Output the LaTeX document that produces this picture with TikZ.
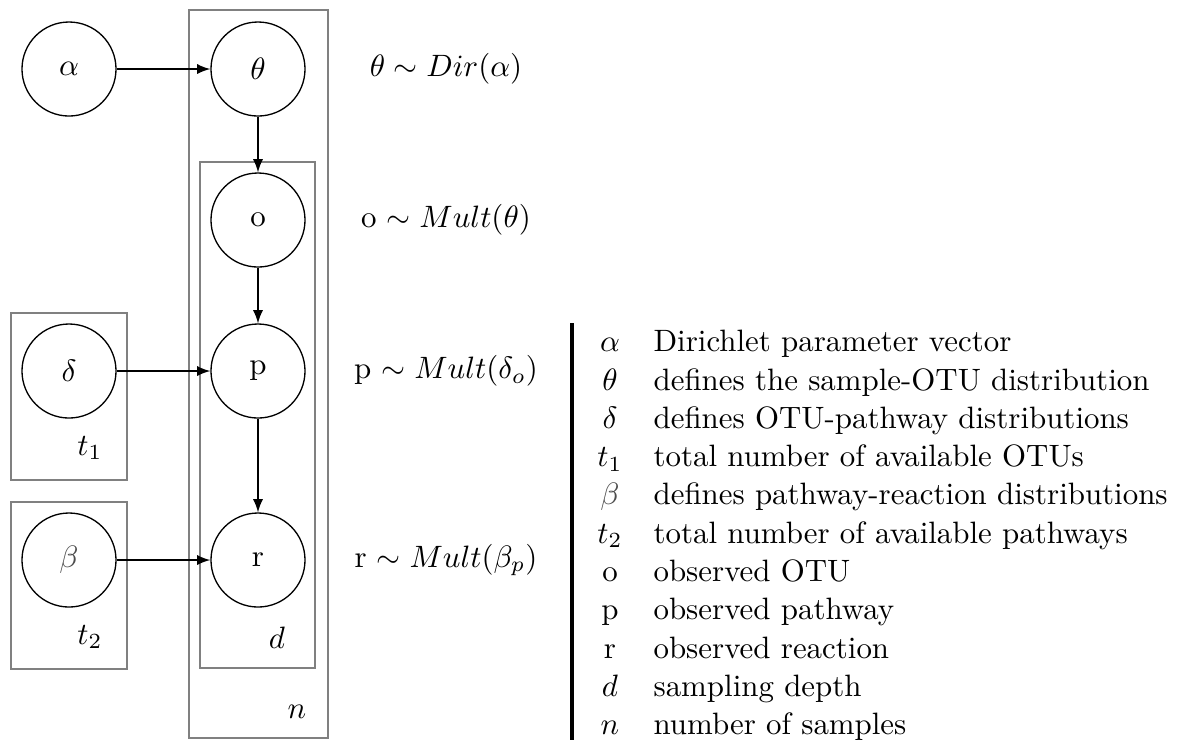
\documentclass[tikz,border=0pt]{standalone}
\begin{document}
\begin{tikzpicture}[x=0.010638cm,y=-0.010638cm,
  txt/.style={inner sep=0pt,scale=0.935},
  var/.style={circle,draw,minimum size=1cm/0.935,inner sep=0pt,scale=0.935},
  plate/.style={draw=gray,line width=0.5pt},
  edge/.style={-latex},
  lbl/.style={txt},
  eqn/.style={txt},
  sym/.style={txt,anchor=base},
  desc/.style={txt,anchor=base west}]
\useasboundingbox (0,0) rectangle (1178,740);

% plates
\draw[plate] (189,10) rectangle (328,738);
\draw[plate] (200,162) rectangle (315,668);
\draw[plate] (11,313) rectangle (127,480);
\draw[plate] (11,502) rectangle (127,669);

% plate labels
\node[lbl] (lt1) at (90,448) {$t_1$};
\node[lbl] (lt2) at (90,637) {$t_2$};
\node[lbl] (ld)  at (277,638) {$d$};
\node[lbl] (ln)  at (297,712) {$n$};

% random variables
\node[var] (alpha) at (69,69)  {$\alpha$};
\node[var] (theta) at (258,69) {$\theta$};
\node[var] (o)     at (258,220) {o};
\node[var] (p)     at (258,371) {p};
\node[var] (r)     at (258,560) {r};
\node[var] (delta) at (69,371) {$\delta$};
\node[var] (beta)  at (69,560) {\color{black!70}$\beta$};

% dependencies
\draw[edge] (alpha) -- (theta);
\draw[edge] (theta) -- (o);
\draw[edge] (o) -- (p);
\draw[edge] (p) -- (r);
\draw[edge] (delta) -- (p);
\draw[edge] (beta) -- (r);

% generative equations
\node[eqn] (e1) at (446,69)  {$\theta \sim Dir(\alpha)$};
\node[eqn] (e2) at (446,220) {o $\sim Mult(\theta)$};
\node[eqn] (e3) at (446,371) {p $\sim Mult(\delta_o)$};
\node[eqn] (e4) at (446,560) {r $\sim Mult(\beta_p)$};

% legend
\draw[line width=1pt] (572,323) -- (572,740);
\foreach \i/\s/\t in {
  0/{$\alpha$}/{Dirichlet parameter vector},
  1/{$\theta$}/{defines the sample-OTU distribution},
  2/{$\delta$}/{defines OTU-pathway distributions},
  3/{$t_1$}/{total number of available OTUs},
  4/{\color{black!70}$\beta$}/{defines pathway-reaction distributions},
  5/{$t_2$}/{total number of available pathways},
  6/{o}/{observed OTU},
  7/{p}/{observed pathway},
  8/{r}/{observed reaction},
  9/{$d$}/{sampling depth},
  10/{$n$}/{number of samples}}{
  \node[sym]  (sym\i) at (610,351.7+38.3*\i) {\s};
  \node[desc] (txt\i) at (653,351.7+38.3*\i) {\t};
}
\end{tikzpicture}
\end{document}
